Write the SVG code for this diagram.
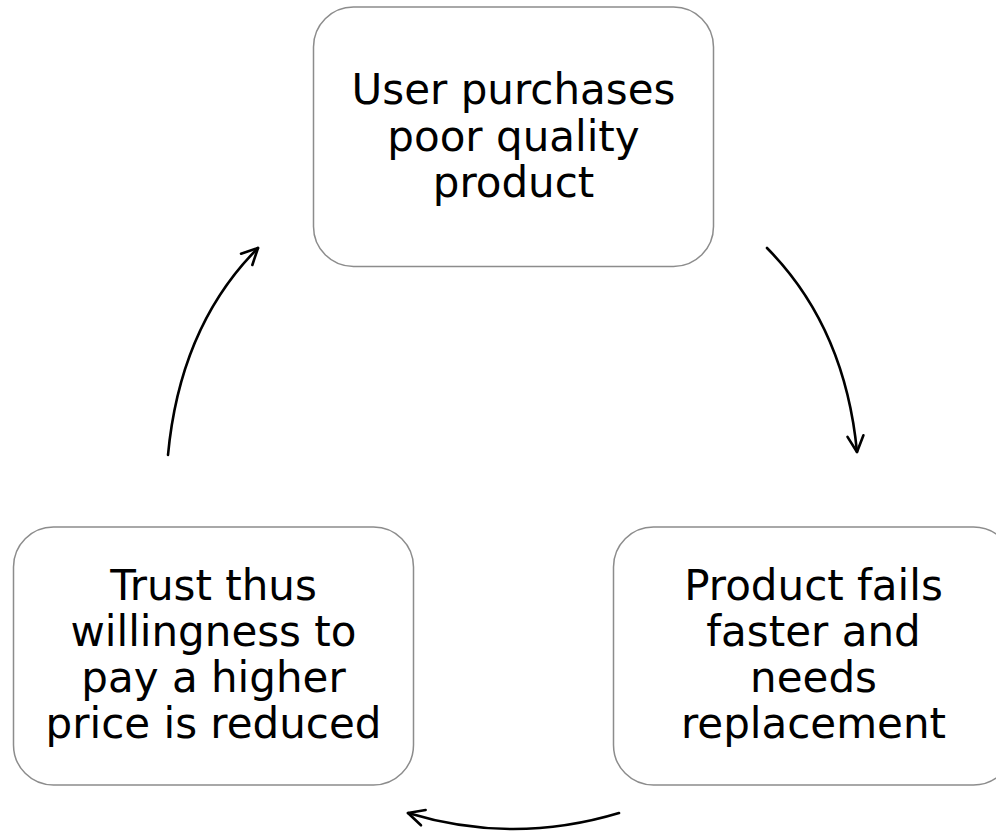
<svg xmlns="http://www.w3.org/2000/svg" width="996" height="831" viewBox="0 0 996 831">
  <defs>
    <style>
      .box { fill: #ffffff; stroke: #8c8c8c; stroke-width: 1.5; }
      .label { font-family: "DejaVu Sans", Verdana, sans-serif; font-size: 42px; fill: #000000; text-anchor: middle; }
      .flow { fill: none; stroke: #000000; stroke-width: 2.6; stroke-linecap: round; }
    </style>
    <marker id="head" viewBox="0 0 20 20" refX="18" refY="10" markerWidth="20" markerHeight="20" markerUnits="userSpaceOnUse" orient="auto">
      <path d="M2,2 L18,10 L2,18" fill="none" stroke="#000000" stroke-width="2.6" stroke-linecap="round" stroke-linejoin="round"/>
    </marker>
  </defs>
  <rect width="996" height="831" fill="#ffffff"/>

  <g id="node-purchase">
    <rect class="box" x="313.5" y="7" width="400" height="259.5" rx="40" ry="40"/>
    <text class="label" x="513.5" y="104">User purchases</text>
    <text class="label" x="513.5" y="150.5">poor quality</text>
    <text class="label" x="513.5" y="197">product</text>
  </g>

  <g id="node-fails">
    <rect class="box" x="613.5" y="527" width="400" height="258" rx="40" ry="40"/>
    <text class="label" x="813.5" y="600">Product fails</text>
    <text class="label" x="813.5" y="646">faster and</text>
    <text class="label" x="813.5" y="692">needs</text>
    <text class="label" x="813.5" y="738">replacement</text>
  </g>

  <g id="node-trust">
    <rect class="box" x="13.5" y="527" width="400" height="258" rx="40" ry="40"/>
    <text class="label" x="213.5" y="600">Trust thus</text>
    <text class="label" x="213.5" y="646">willingness to</text>
    <text class="label" x="213.5" y="692">pay a higher</text>
    <text class="label" x="213.5" y="738">price is reduced</text>
  </g>

  <g id="connectors">
    <path class="flow" d="M767,248 Q845,327 857,452" marker-end="url(#head)"/>
    <path class="flow" d="M619,813 Q513,845 408,813" marker-end="url(#head)"/>
    <path class="flow" d="M168,455 Q180,326 258,248" marker-end="url(#head)"/>
  </g>
</svg>
